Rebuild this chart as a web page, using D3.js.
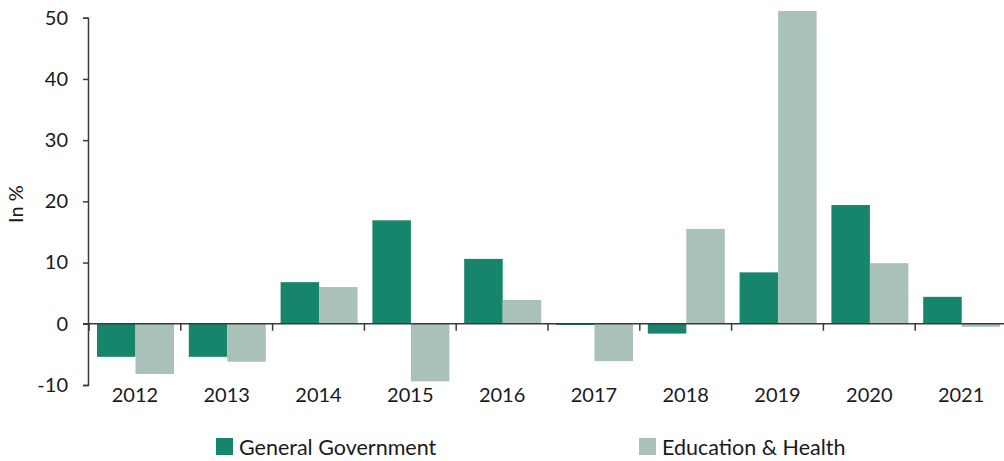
<!DOCTYPE html>
<html><head><meta charset="utf-8">
<script src="https://cdn.jsdelivr.net/npm/d3@7"></script>
<style>
body{margin:0;background:#fff;}
text{font-family:Lato,"Open Sans",sans-serif;fill:#1a1a1a;}
</style></head>
<body>
<svg id="c" width="1004" height="461"></svg>
<script>
const years = ["2012","2013","2014","2015","2016","2017","2018","2019","2020","2021"];
const seriesNames = ["General Government","Education & Health"];
const generalGov = [-5.4,-5.4,6.8,16.9,10.6,-0.2,-1.6,8.4,19.4,4.4];
const eduHealth = [-8.2,-6.2,6.0,-9.4,3.9,-6.1,15.5,51.1,9.9,-0.5];
const yTicks = [-10,0,10,20,30,40,50];
const colors = ["#17846c","#a9c1b8"];

const svg = d3.select("#c");
const x0 = d3.scaleBand().domain(years).range([89,1007]).padding(0);
const x1 = d3.scaleBand().domain(seriesNames).range([8,85]).padding(0);
const y = d3.scaleLinear().domain([-10,50]).range([385,17.7]);
const color = d3.scaleOrdinal().domain(seriesNames).range(colors);

const data = years.map((yr,i)=>({year:yr, vals:[
  {name:seriesNames[0], v:generalGov[i]},
  {name:seriesNames[1], v:eduHealth[i]}]}));

// bars
const g = svg.append("g");
g.selectAll("g.grp").data(data).enter().append("g")
  .attr("transform", d=>`translate(${x0(d.year)},0)`)
  .selectAll("rect").data(d=>d.vals).enter().append("rect")
  .attr("x", d=>x1(d.name))
  .attr("width", x1.bandwidth())
  .attr("y", d=>y(Math.max(0,d.v)))
  .attr("height", d=>Math.abs(y(d.v)-y(0)))
  .attr("fill", d=>color(d.name));

// y axis
const yAxis = d3.axisLeft(y).tickValues(yTicks).tickSize(5).tickPadding(15).tickFormat(d=>String(d));
const ya = svg.append("g").attr("transform","translate(88,0)").call(yAxis);
ya.select(".domain").attr("stroke","#3a3a3a").attr("stroke-width",1.5);
ya.selectAll(".tick line").attr("stroke","#3a3a3a").attr("stroke-width",1.5);
ya.selectAll(".tick text").attr("font-size",20).attr("font-family","Lato").attr("fill","#1a1a1a");

// x axis at zero
const xa = svg.append("g");
xa.append("line").attr("x1",83).attr("x2",1004).attr("y1",y(0)).attr("y2",y(0))
  .attr("stroke","#3a3a3a").attr("stroke-width",1.5);
const bounds = years.map(d=>x0(d)).concat([x0(years[years.length-1])+x0.bandwidth()]);
xa.selectAll("line.t").data(bounds).enter().append("line")
  .attr("x1",d=>d).attr("x2",d=>d).attr("y1",y(0)).attr("y2",y(0)+7)
  .attr("stroke","#3a3a3a").attr("stroke-width",1.5);
xa.selectAll("text").data(years).enter().append("text")
  .attr("x",d=>x0(d)+x0.bandwidth()/2).attr("y",402)
  .attr("text-anchor","middle").attr("font-size",20).text(d=>d);

// y label
svg.append("text").attr("transform","translate(23,204) rotate(-90)")
  .attr("text-anchor","middle").attr("font-size",20).text("In %");

// legend
const legX = [216,639];
const leg = svg.selectAll("g.leg").data(seriesNames).enter().append("g")
  .attr("transform",(d,i)=>`translate(${legX[i]},438)`);
leg.append("rect").attr("width",17).attr("height",17).attr("fill",d=>color(d));
leg.append("text").attr("x",23).attr("y",17).attr("font-size",21.5).text(d=>d);
</script>
</body></html>
